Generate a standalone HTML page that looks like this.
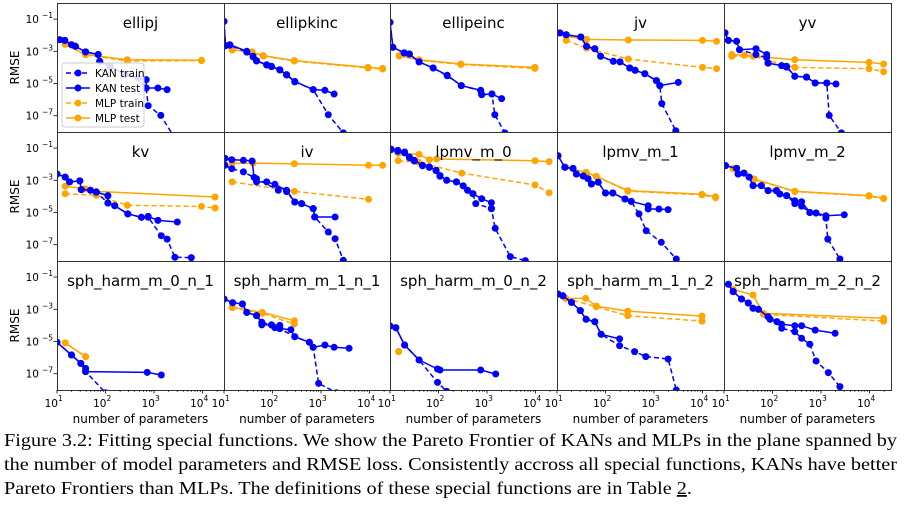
<!DOCTYPE html>
<html><head><meta charset="utf-8"><style>
body{margin:0;background:#fff;}
svg{display:block;font-family:"DejaVu Sans","Liberation Sans",sans-serif;}
.cap{font-family:"Liberation Serif",serif;font-size:17.5px;fill:#000;}
</style></head><body>
<svg id="fig" width="904" height="512" viewBox="0 0 904 512" xmlns="http://www.w3.org/2000/svg">
<g id="panels"></g>
<g>
<text class="cap" x="4" y="446" textLength="893" lengthAdjust="spacingAndGlyphs">Figure 3.2: Fitting special functions. We show the Pareto Frontier of KANs and MLPs in the plane spanned by</text>
<text class="cap" x="4" y="470" textLength="893" lengthAdjust="spacingAndGlyphs">the number of model parameters and RMSE loss. Consistently accross all special functions, KANs have better</text>
<text class="cap" x="4" y="494" textLength="688" lengthAdjust="spacingAndGlyphs">Pareto Frontiers than MLPs. The definitions of these special functions are in Table <tspan fill="#000" text-decoration="underline">2</tspan>.</text>
</g>
</svg>
<script>
// Values are log10(number of parameters) and log10(RMSE).
const titles = ["ellipj","ellipkinc","ellipeinc","jv","yv","kv","iv","lpmv_m_0","lpmv_m_1","lpmv_m_2","sph_harm_m_0_n_1","sph_harm_m_1_n_1","sph_harm_m_0_n_2","sph_harm_m_1_n_2","sph_harm_m_2_n_2"];
const yTicks = [-1,-3,-5,-7];
const xTicks = [1,2,3,4];

// ellipj
const kt0x=[1.055,1.16,1.30,1.38,1.59,1.85,1.88,2.09,2.40,2.67,2.84,2.84,3.08,3.27];
const kt0y=[-2.28,-2.32,-2.59,-2.69,-3.04,-3.2,-3.62,-3.93,-4.45,-4.66,-4.76,-5.28,-5.28,-5.38];
const kr0x=[1.055,1.16,1.30,1.38,1.59,1.85,1.88,2.09,2.40,2.67,2.84,2.88,3.14,3.53];
const kr0y=[-2.28,-2.32,-2.59,-2.69,-3.04,-3.2,-3.62,-3.93,-4.45,-4.66,-5.28,-6.38,-6.98,-8.9];
const mt0x=[1.17,1.59,2.45,3.98]; const mt0y=[-2.55,-3.2,-3.52,-3.56];
const mr0x=[1.17,1.59,2.45,3.98]; const mr0y=[-2.57,-3.22,-3.6,-3.58];
// ellipkinc
const kt1x=[1.0,1.03,1.12,1.47,1.6,1.67,1.88,1.98,2.15,2.29,2.46,2.84,3.08,3.27];
const kt1y=[-1.14,-2.65,-2.59,-3.0,-3.31,-3.58,-3.83,-3.93,-4.14,-4.45,-4.87,-5.38,-5.42,-5.65];
const kr1x=[1.0,1.03,1.12,1.47,1.6,1.67,1.88,1.98,2.15,2.29,2.46,2.84,3.15,3.46];
const kr1y=[-1.14,-2.65,-2.62,-3.05,-3.35,-3.6,-3.85,-3.95,-4.16,-4.47,-4.9,-5.38,-6.94,-8.07];
const mt1x=[1.17,1.58,1.81,2.45,3.97,4.27]; const mt1y=[-2.9,-3.04,-3.27,-3.58,-4.0,-4.06];
const mr1x=[1.17,1.58,1.81,2.45,3.97,4.27]; const mr1y=[-2.92,-3.06,-3.3,-3.6,-4.04,-4.1];
// ellipeinc
const kt2x=[1.0,1.06,1.29,1.4,1.6,1.89,2.18,2.47,2.87,2.89,3.1,3.3];
const kt2y=[-1.2,-2.75,-3.1,-3.17,-3.66,-4.04,-4.49,-5.13,-5.42,-5.69,-5.65,-5.94];
const kr2x=[1.0,1.06,1.29,1.4,1.6,1.89,2.18,2.47,2.87,2.89,3.1,3.16,3.37];
const kr2y=[-1.2,-2.75,-3.1,-3.17,-3.66,-4.04,-4.52,-5.13,-5.45,-5.69,-5.65,-6.94,-8.07];
const mt2x=[1.19,1.6,2.46,3.99]; const mt2y=[-3.27,-3.52,-3.79,-4.0];
const mr2x=[1.19,1.6,2.46,3.99]; const mr2y=[-3.29,-3.55,-3.82,-4.06];
// jv
const kt3x=[1.06,1.19,1.49,1.61,1.78,1.9,2.16,2.3,2.5,2.61,2.81,3.05,3.12,3.5];
const kt3y=[-1.86,-1.97,-2.11,-2.69,-2.84,-3.31,-3.62,-3.66,-4.04,-4.18,-4.39,-4.82,-5.13,-4.93];
const kr3x=[1.06,1.19,1.49,1.61,1.78,1.9,2.16,2.3,2.5,2.61,2.81,3.05,3.12,3.16,3.45];
const kr3y=[-1.86,-1.97,-2.11,-2.69,-2.84,-3.31,-3.62,-3.66,-4.04,-4.18,-4.39,-4.82,-5.13,-6.25,-7.93];
const mt3x=[1.19,1.61,2.47,4.0,4.29]; const mt3y=[-2.07,-2.26,-2.3,-2.32,-2.38];
const mr3x=[1.19,1.61,2.47,4.0,4.29]; const mr3y=[-2.32,-2.8,-3.48,-4.0,-4.08];
// yv
const kt4x=[1.02,1.09,1.26,1.32,1.66,1.88,1.91,2.19,2.29,2.46,2.7,2.88,3.12,3.31];
const kt4y=[-1.86,-2.32,-2.38,-2.9,-2.84,-3.2,-3.73,-3.89,-3.93,-4.55,-4.6,-4.97,-4.97,-5.03];
const kr4x=[1.02,1.09,1.26,1.32,1.66,1.88,1.91,2.19,2.29,2.46,2.7,2.88,3.12,3.17,3.42];
const kr4y=[-1.86,-2.32,-2.38,-2.9,-3.2,-3.4,-3.73,-3.89,-3.98,-4.55,-4.6,-4.97,-4.97,-6.98,-8.07];
const mt4x=[1.16,1.42,2.46,3.99,4.29]; const mt4y=[-3.2,-3.25,-3.52,-3.69,-3.79];
const mr4x=[1.16,1.6,2.46,3.99,4.29]; const mr4y=[-3.31,-3.31,-4.0,-4.08,-4.27];
// kv
const kt5x=[1.0,1.17,1.26,1.47,1.5,1.69,1.81,2.05,2.05,2.19,2.46,2.74,2.88,3.08,3.48];
const kt5y=[-2.61,-2.8,-3.1,-3.04,-3.58,-3.62,-3.73,-3.95,-4.41,-4.58,-5.09,-5.3,-5.24,-5.49,-5.59];
const kr5x=[1.0,1.17,1.26,1.47,1.5,1.69,1.81,2.05,2.19,2.46,2.74,2.88,3.15,3.27,3.43,3.77];
const kr5y=[-2.61,-2.8,-3.1,-3.04,-3.58,-3.62,-3.73,-4.41,-4.58,-5.09,-5.3,-5.3,-6.44,-6.65,-7.78,-7.8];
const mt5x=[1.17,1.58,1.81,4.26]; const mt5y=[-3.37,-3.52,-3.69,-4.04];
const mr5x=[1.17,1.81,2.45,3.98,4.26]; const mr5y=[-3.83,-3.93,-4.55,-4.62,-4.72];
// iv
const kt6x=[1.02,1.16,1.4,1.58,1.62,1.67,1.88,2.05,2.29,2.46,2.6,2.84,2.87,3.29];
const kt6y=[-1.64,-1.72,-1.76,-1.8,-2.82,-3.1,-3.1,-3.25,-3.62,-4.35,-4.45,-4.76,-5.28,-5.28];
const kr6x=[1.02,1.16,1.4,1.67,2.12,2.29,2.46,2.6,2.84,2.87,3.15,3.29,3.46];
const kr6y=[-2.07,-2.28,-2.48,-2.9,-3.62,-3.7,-4.35,-4.45,-4.76,-5.28,-6.21,-6.63,-7.97];
const mt6x=[1.17,1.6,2.45,3.98,4.27]; const mt6y=[-1.94,-1.94,-1.97,-2.07,-2.07];
const mr6x=[1.17,2.45,3.98]; const mr6y=[-3.1,-3.69,-4.18];
// lpmv_m_0
const kt7x=[1.02,1.16,1.3,1.4,1.5,1.67,1.81,1.95,2.03,2.17,2.37,2.51,2.6,2.71,2.89,3.09,3.09];
const kt7y=[-1.06,-1.14,-1.24,-1.55,-1.76,-2.07,-2.17,-2.38,-2.71,-3.0,-3.1,-3.35,-3.62,-3.83,-4.14,-4.39,-4.76];
const kr7x=[1.02,1.16,1.3,1.4,1.5,1.67,1.81,1.95,2.03,2.17,2.37,2.51,2.6,2.71,2.77,3.09,3.17,3.48,3.79];
const kr7y=[-1.1,-1.2,-1.3,-1.6,-1.8,-2.1,-2.2,-2.4,-2.75,-3.0,-3.1,-3.35,-3.62,-3.83,-4.45,-4.76,-5.98,-7.74,-7.99];
const mt7x=[1.17,1.6,1.81,1.96,3.99,4.28]; const mt7y=[-1.33,-1.39,-1.72,-1.68,-1.78,-1.84];
const mr7x=[1.17,1.59,2.48,3.99,4.28]; const mr7y=[-1.78,-1.88,-2.55,-3.29,-3.77];
// lpmv_m_1
const kt8x=[1.02,1.16,1.33,1.4,1.54,1.64,1.71,1.85,2.0,2.15,2.4,2.53,2.88,2.88,3.1,3.29];
const kt8y=[-1.47,-2.19,-2.26,-2.61,-2.73,-2.9,-3.23,-3.12,-3.79,-3.79,-4.16,-4.31,-4.58,-4.78,-4.78,-4.82];
const kr8x=[1.02,1.16,1.33,1.4,1.54,1.64,1.71,1.85,2.0,2.15,2.4,2.53,2.69,2.84,3.15,3.46];
const kr8y=[-1.47,-2.19,-2.26,-2.61,-2.73,-2.9,-3.23,-3.12,-3.79,-3.79,-4.16,-4.31,-5.09,-6.13,-6.85,-7.89];
const mt8x=[1.18,1.6,1.81,2.46,3.99,4.27]; const mt8y=[-2.19,-2.5,-2.75,-3.64,-3.87,-4.02];
const mr8x=[1.18,1.6,1.81,2.46,3.99,4.27]; const mr8y=[-2.2,-2.52,-2.77,-3.67,-3.9,-4.08];
// lpmv_m_2
const kt9x=[1.03,1.26,1.29,1.41,1.52,1.6,1.77,1.91,2.08,2.15,2.29,2.46,2.6,2.77,2.9,3.1,3.48];
const kt9y=[-2.09,-2.26,-2.61,-2.55,-2.8,-3.33,-3.33,-3.64,-3.64,-3.85,-3.95,-4.27,-4.33,-5.0,-5.03,-5.2,-5.14];
const kr9x=[1.03,1.26,1.29,1.41,1.52,1.6,1.77,1.91,2.08,2.15,2.29,2.46,2.6,2.77,2.9,3.1,3.14,3.39];
const kr9y=[-2.09,-2.26,-2.61,-2.55,-2.8,-3.33,-3.33,-3.64,-3.64,-3.85,-3.95,-4.45,-4.6,-5.0,-5.03,-5.35,-6.65,-7.89];
const mt9x=[1.19,1.62,2.46,3.99,4.29]; const mt9y=[-2.26,-2.92,-3.68,-3.95,-4.12];
const mr9x=[1.19,1.62,2.46,3.99,4.29]; const mr9y=[-2.28,-2.95,-3.7,-3.98,-4.14];
// sph_harm_m_0_n_1
const kt10x=[0.95,1.0,1.3,1.49,1.59,1.59,2.86,3.15]; const kt10y=[-4.5,-5.05,-5.84,-6.36,-6.67,-6.87,-6.92,-7.08];
const kr10x=[0.95,1.0,1.3,1.49,1.59,2.0]; const kr10y=[-4.5,-5.05,-5.84,-6.36,-6.87,-8.18];
const mt10x=[1.17,1.59]; const mt10y=[-5.09,-5.94];
const mr10x=[1.17,1.59]; const mr10y=[-5.09,-5.94];
// sph_harm_m_1_n_1
const kt11x=[1.0,1.18,1.38,1.47,1.67,1.78,1.78,1.98,2.05,2.15,2.15,2.38,2.46,2.76,2.84,3.08,3.27,3.58];
const kt11y=[-2.36,-2.59,-2.67,-3.19,-3.39,-3.81,-3.97,-3.97,-4.14,-4.0,-4.2,-4.27,-4.7,-5.05,-5.36,-5.22,-5.36,-5.42];
const kr11x=[1.0,1.18,1.38,1.47,1.67,1.78,1.98,2.15,2.46,2.76,2.84,2.95,3.32];
const kr11y=[-2.36,-2.59,-2.67,-3.19,-3.39,-3.81,-3.97,-4.2,-4.7,-5.05,-5.36,-7.6,-8.18];
const mt11x=[1.17,1.79,2.45]; const mt11y=[-2.88,-3.19,-3.71];
const mr11x=[1.17,1.79,2.45]; const mr11y=[-2.9,-3.25,-3.91];
// sph_harm_m_0_n_2
const kt12x=[1.0,1.12,1.3,1.6,1.98,2.03,2.87,3.18]; const kt12y=[-4.04,-4.14,-5.22,-6.15,-6.71,-6.77,-6.77,-7.02];
const kr12x=[1.0,1.12,1.3,1.6,1.98,2.17]; const kr12y=[-4.04,-4.14,-5.22,-6.15,-7.54,-8.1];
const mt12x=[1.18]; const mt12y=[-5.63];
const mr12x=[1.18]; const mr12y=[-5.63];
// sph_harm_m_1_n_2
const kt13x=[1.02,1.12,1.3,1.48,1.6,1.78,1.91,2.29]; const kt13y=[-2.05,-2.16,-2.57,-3.08,-3.62,-3.77,-4.55,-4.84];
const kr13x=[1.02,1.12,1.3,1.48,1.6,1.78,1.91,2.29,2.6,2.83,3.29,3.46]; const kr13y=[-2.05,-2.16,-2.57,-3.08,-3.62,-3.77,-4.55,-5.26,-5.63,-5.94,-6.09,-8.01];
const mt13x=[1.18,1.59,1.81,2.46,3.99]; const mt13y=[-2.32,-2.32,-2.8,-3.11,-3.42];
const mr13x=[1.18,1.81,2.46,3.99]; const mr13y=[-2.32,-2.84,-3.4,-3.73];
// sph_harm_m_2_n_2
const kt14x=[1.09,1.19,1.36,1.5,1.6,1.71,1.91,1.95,2.09,2.19,2.46,2.6,2.88,3.29];
const kt14y=[-1.45,-1.9,-2.36,-2.61,-2.94,-3.0,-3.46,-3.62,-3.77,-3.93,-4.02,-4.02,-4.29,-4.49];
const kr14x=[1.09,1.19,1.36,1.5,1.6,1.71,1.91,1.95,2.09,2.19,2.46,2.6,2.77,2.9,3.15,3.39];
const kr14y=[-1.45,-1.9,-2.36,-2.61,-2.94,-3.0,-3.46,-3.62,-3.77,-4.18,-4.39,-4.8,-5.17,-6.21,-6.93,-7.8];
const mt14x=[1.19,1.6,1.81,4.29]; const mt14y=[-1.76,-2.11,-3.25,-3.56];
const mr14x=[1.19,1.81,4.29]; const mr14y=[-1.9,-3.31,-3.73];

const KT=[[kt0x,kt0y],[kt1x,kt1y],[kt2x,kt2y],[kt3x,kt3y],[kt4x,kt4y],[kt5x,kt5y],[kt6x,kt6y],[kt7x,kt7y],[kt8x,kt8y],[kt9x,kt9y],[kt10x,kt10y],[kt11x,kt11y],[kt12x,kt12y],[kt13x,kt13y],[kt14x,kt14y]];
const KR=[[kr0x,kr0y],[kr1x,kr1y],[kr2x,kr2y],[kr3x,kr3y],[kr4x,kr4y],[kr5x,kr5y],[kr6x,kr6y],[kr7x,kr7y],[kr8x,kr8y],[kr9x,kr9y],[kr10x,kr10y],[kr11x,kr11y],[kr12x,kr12y],[kr13x,kr13y],[kr14x,kr14y]];
const MT=[[mt0x,mt0y],[mt1x,mt1y],[mt2x,mt2y],[mt3x,mt3y],[mt4x,mt4y],[mt5x,mt5y],[mt6x,mt6y],[mt7x,mt7y],[mt8x,mt8y],[mt9x,mt9y],[mt10x,mt10y],[mt11x,mt11y],[mt12x,mt12y],[mt13x,mt13y],[mt14x,mt14y]];
const MR=[[mr0x,mr0y],[mr1x,mr1y],[mr2x,mr2y],[mr3x,mr3y],[mr4x,mr4y],[mr5x,mr5y],[mr6x,mr6y],[mr7x,mr7y],[mr8x,mr8y],[mr9x,mr9y],[mr10x,mr10y],[mr11x,mr11y],[mr12x,mr12y],[mr13x,mr13y],[mr14x,mr14y]];

const NS="http://www.w3.org/2000/svg";
const colL=[57,224,390,557,724,891], rowT=[3,132,261], PH=129;
const XD=48.5, YD=16.1;
function mk(tag,attrs,parent){const e=document.createElementNS(NS,tag);for(const k in attrs)e.setAttribute(k,attrs[k]);parent.appendChild(e);return e;}
function xs(l,v){return l+(v-1)*XD;}
function ys(t,v){return t-v*YD;}
const root=document.getElementById('panels');
const defs=mk('defs',{},root);

function series(g,L,T,xa,ya,color,dash,name){
  const sg=mk('g',{},g);
  
  
  const pts=xa.map((x,i)=>xs(L,x).toFixed(1)+','+ys(T,ya[i]).toFixed(1)).join(' ');
  const pl=mk('polyline',{points:pts,fill:'none',stroke:color,'stroke-width':1.5},sg);
  if(dash)pl.setAttribute('stroke-dasharray','5,3');
  
  
  xa.forEach((x,i)=>{
    const c=mk('circle',{cx:xs(L,x).toFixed(1),cy:ys(T,ya[i]).toFixed(1),r:3.5,fill:color},sg);
    
    
  });
}

for(let p=0;p<15;p++){
  const r=Math.floor(p/5), c=p%5, L=colL[c], T=rowT[r], PW=colL[c+1]-colL[c];
  const g=mk('g',{},root);
  
  
  const cp=mk('clipPath',{id:'cp'+p},defs);
  mk('rect',{x:L,y:T,width:PW,height:PH},cp);
  const dg=mk('g',{'clip-path':'url(#cp'+p+')'},g);
  series(dg,L,T,MR[p][0],MR[p][1],'#ffa500',true,'mlp-train-series');
  series(dg,L,T,MT[p][0],MT[p][1],'#ffa500',false,'mlp-test-series');
  series(dg,L,T,KR[p][0],KR[p][1],'#0000ff',true,'kan-train-series');
  series(dg,L,T,KT[p][0],KT[p][1],'#0000ff',false,'kan-test-series');
  const fr=mk('rect',{x:L+0.5,y:T+0.5,width:PW,height:PH,fill:'none',stroke:'#333','stroke-width':1},g);
  
  
  const tt=mk('text',{x:L+PW/2,y:T+25,'text-anchor':'middle','font-size':15,fill:'#000'},g);
  tt.textContent=titles[p];
  
  
  if(c===0){
    yTicks.forEach(v=>{
      const y=ys(T,v);
      mk('line',{x1:L-3.5,x2:L,y1:y,y2:y,stroke:'#000','stroke-width':0.8},g);
      const t=mk('text',{x:L-18,y:y+4,'text-anchor':'end','font-size':10.5,fill:'#000'},g);
      t.textContent='10';
      
      
      const s=mk('text',{x:L-4,y:y-1,'text-anchor':'end','font-size':7.5,fill:'#000'},g);
      s.textContent='\u2212'+(-v);
      
      
    });
    const yt=mk('text',{x:0,y:0,'text-anchor':'middle','font-size':12,fill:'#000',transform:'translate(19,'+(T+PH/2)+') rotate(-90)'},g);
    yt.textContent='RMSE';
    
    
  }
  if(r===2){
    for(let d=1;d<=4;d++){for(let m=2;m<=9;m++){const v=d+Math.log10(m);if(v>1+PW/XD)break;const x=xs(L,v);mk('line',{x1:x,x2:x,y1:T+PH,y2:T+PH+2,stroke:'#000','stroke-width':0.6},g);}}
    xTicks.forEach(v=>{
      const x=xs(L,v);
      mk('line',{x1:x,x2:x,y1:T+PH,y2:T+PH+3.5,stroke:'#000','stroke-width':0.8},g);
      const t=mk('text',{x:x+1,y:T+PH+17,'text-anchor':'end','font-size':10.5,fill:'#000'},g);
      t.textContent='10';
      
      
      const s=mk('text',{x:x+1,y:T+PH+11,'text-anchor':'start','font-size':7.5,fill:'#000'},g);
      s.textContent=String(v);
      
      
    });
    const xt=mk('text',{x:L+PW/2,y:T+PH+33,'text-anchor':'middle','font-size':12,fill:'#000'},g);
    xt.textContent='number of parameters';
    
    
  }
}
// legend
const lg=mk('g',{},root);


mk('rect',{x:62,y:63,width:82,height:64,rx:3,fill:'#fff','fill-opacity':0.85,stroke:'#ccc','stroke-width':1},lg);
const legNames=['KAN train','KAN test','MLP train','MLP test'];
const legCols=['#0000ff','#0000ff','#ffa500','#ffa500'];
const legDash=[true,false,true,false];
legNames.forEach((n,i)=>{
  const y=73+i*15;
  const e=mk('g',{},lg);
  
  
  const ln=mk('line',{x1:66,x2:90,y1:y,y2:y,stroke:legCols[i],'stroke-width':1.5},e);
  if(legDash[i])ln.setAttribute('stroke-dasharray','5,3');
  mk('circle',{cx:78,cy:y,r:3.5,fill:legCols[i]},e);
  const t=mk('text',{x:95,y:y+4,'font-size':10.5,fill:'#000'},e);
  t.textContent=n;
});
</script>
</body></html>
